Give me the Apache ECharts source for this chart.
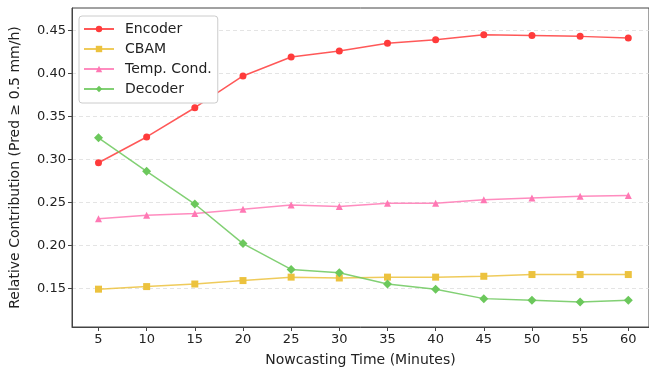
<!DOCTYPE html>
<html>
<head>
<meta charset="utf-8">
<script src="https://cdn.jsdelivr.net/npm/echarts@6/dist/echarts.min.js"></script>
<style>
html, body { margin: 0; padding: 0; background: #fff; }
#main { width: 649px; height: 372px; }
</style>
</head>
<body>
<div id="main"></div>
<script>
// 数据
var minutes = [5, 10, 15, 20, 25, 30, 35, 40, 45, 50, 55, 60];
var encoder = [0.296, 0.326, 0.360, 0.397, 0.419, 0.426, 0.435, 0.439, 0.445, 0.444, 0.443, 0.441];
var cbam = [0.149, 0.152, 0.155, 0.159, 0.163, 0.162, 0.163, 0.163, 0.164, 0.166, 0.166, 0.166];
var tempCond = [0.231, 0.235, 0.237, 0.242, 0.247, 0.245, 0.249, 0.249, 0.253, 0.255, 0.257, 0.258];
var decoder = [0.325, 0.286, 0.248, 0.202, 0.172, 0.168, 0.155, 0.149, 0.138, 0.136, 0.134, 0.136];
var yTicks = [0.15, 0.20, 0.25, 0.30, 0.35, 0.40, 0.45];

function pairs(arr) {
	return minutes.map(function (m, i) { return [m, arr[i]]; });
}

function makeSeries(name, arr, color, symbol, size) {
	return {
		name: name,
		type: 'line',
		data: pairs(arr),
		symbol: symbol,
		symbolSize: size,
		itemStyle: { color: color },
		lineStyle: { color: color, width: 1.5, opacity: 0.85 },
		emphasis: { disabled: true },
		animation: false
	};
}

var myChart = echarts.init(document.getElementById('main'));
var font = 'DejaVu Sans';

var option = {
	backgroundColor: '#fff',
	textStyle: { fontFamily: font },
	grid: {
		left: 71, right: 0, top: 8, bottom: 43,
		show: true,
		borderColor: '#444',
		borderWidth: 1
	},
	legend: {
		orient: 'vertical',
		left: 79,
		top: 16,
		padding: [5, 6, 6, 4],
		itemGap: 4,
		itemWidth: 30,
		itemHeight: 8,
		backgroundColor: '#fff',
		borderColor: '#ccc',
		borderWidth: 1,
		borderRadius: 3,
		textStyle: { fontFamily: font, fontSize: 14, color: '#222', lineHeight: 16, padding: [0, 0, 0, 6] },
		data: ['Encoder', 'CBAM', 'Temp. Cond.', 'Decoder']
	},
	xAxis: {
		type: 'value',
		min: 2.25,
		max: 62.15,
		name: 'Nowcasting Time (Minutes)',
		nameLocation: 'middle',
		nameGap: 26,
		nameTextStyle: { fontFamily: font, fontSize: 14, color: '#222' },
		axisLine: { show: true, onZero: false, lineStyle: { color: '#444' } },
		axisTick: { show: true, length: 4, customValues: minutes, lineStyle: { color: '#444' } },
		axisLabel: { customValues: minutes, fontFamily: font, fontSize: 13, color: '#222', margin: 6 },
		splitLine: { show: false }
	},
	yAxis: {
		type: 'value',
		min: 0.105,
		max: 0.476,
		name: 'Relative Contribution (Pred ≥ 0.5 mm/h)',
		nameLocation: 'middle',
		nameGap: 50,
		nameTextStyle: { fontFamily: font, fontSize: 14, color: '#222' },
		axisLine: { show: true, lineStyle: { color: '#444' } },
		axisTick: { show: true, length: 4, customValues: yTicks, lineStyle: { color: '#444' } },
		axisLabel: {
			customValues: yTicks,
			fontFamily: font, fontSize: 13, color: '#222', margin: 6,
			formatter: function (v) { return v.toFixed(2); }
		},
		splitLine: { show: true, lineStyle: { color: '#ddd', type: [4, 3], width: 0.8 } }
	},
	series: [
		makeSeries('Encoder', encoder, '#ff3b3b', 'circle', 7),
		makeSeries('CBAM', cbam, '#ecc23e', 'rect', 7),
		makeSeries('Temp. Cond.', tempCond, '#ff78b4', 'triangle', 7),
		makeSeries('Decoder', decoder, '#6cc85c', 'diamond', 9)
	]
};

myChart.setOption(option);
</script>
</body>
</html>
